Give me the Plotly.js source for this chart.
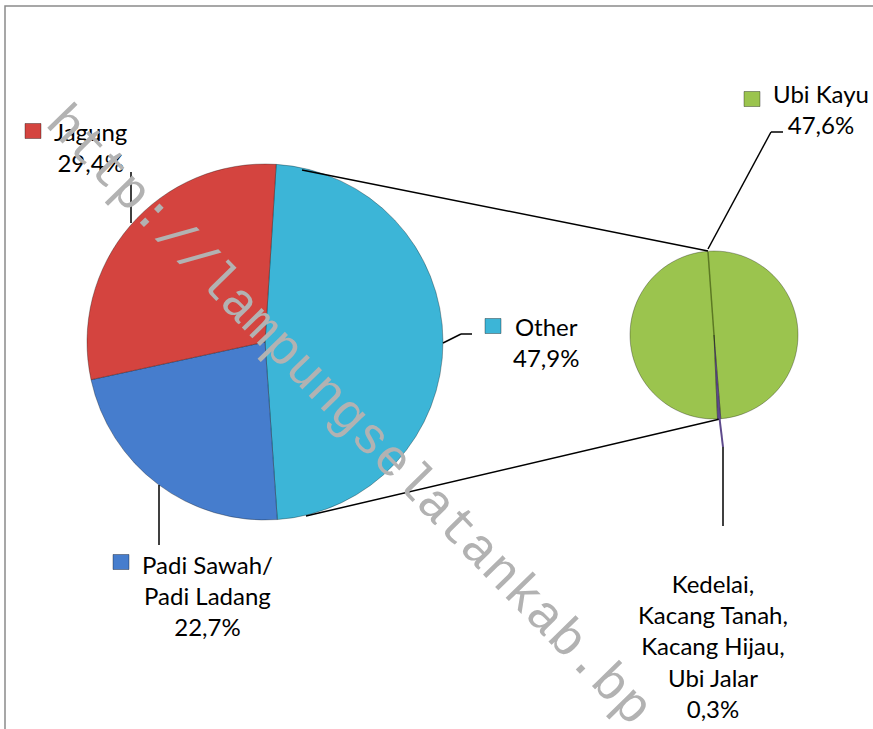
<!DOCTYPE html>
<html>
<head>
<meta charset="utf-8">
<script src="https://cdn.plot.ly/plotly-3.0.1.min.js"></script>
<style>html,body{margin:0;padding:0;background:#fff;}#chart{width:873px;height:729px;}</style>
</head>
<body>
<div id="chart"></div>
<script>
// ---- data ----
const mainLabels = ['Other', 'Padi Sawah/<br>Padi Ladang', 'Jagung'];
const mainValues = [47.9, 22.7, 29.4];
const mainColors = ['#3cb5d7', '#467dcd', '#d4443f'];

const subLabels = ['Ubi Kayu', 'Kedelai,<br>Kacang Tanah,<br>Kacang Hijau,<br>Ubi Jalar'];
const subValues = [47.6, 0.3];
const subColors = ['#9bc44e', '#5e4a8c'];

const watermark = 'http://lampungselatankab.bp';

// ---- helpers ----
const W = 873, H = 729;
const px = x => x / W;
const py = y => 1 - y / H;
const fmt = v => v.toFixed(1).replace('.', ',') + '%';

const traces = [
  {
    type: 'pie', labels: mainLabels, values: mainValues, sort: false,
    direction: 'clockwise', rotation: 3.6,
    marker: {colors: mainColors, line: {color: 'rgba(0,0,0,0.3)', width: 1}},
    textinfo: 'none', hoverinfo: 'none', showlegend: false,
    domain: {x: [px(87), px(443)], y: [py(520), py(164)]}
  },
  {
    type: 'pie', labels: subLabels, values: subValues, sort: false,
    direction: 'clockwise', rotation: 177.6,
    marker: {colors: subColors, line: {color: 'rgba(0,0,0,0.3)', width: 1}},
    textinfo: 'none', hoverinfo: 'none', showlegend: false,
    domain: {x: [px(630), px(798)], y: [py(419), py(251)]}
  }
];

const font = {family: 'Lato, "Open Sans", sans-serif', size: 24, color: '#000'};

function lbl(text, cx, cy) {
  return {xref: 'paper', yref: 'paper', x: px(cx), y: py(cy), xanchor: 'center', yanchor: 'middle',
          text: text, showarrow: false, align: 'center', font: font};
}

const annotations = [
  lbl(mainLabels[2] + '<br>' + fmt(mainValues[2]), 90, 147),
  lbl(mainLabels[0] + '<br>' + fmt(mainValues[0]), 546, 342),
  lbl(mainLabels[1] + '<br>' + fmt(mainValues[1]), 207, 595),
  lbl(subLabels[0] + '<br>' + fmt(subValues[0]), 821, 109),
  lbl(subLabels[1] + '<br>' + fmt(subValues[1]), 713, 646),
  {xref: 'paper', yref: 'paper', x: px(348), y: py(416), xanchor: 'center', yanchor: 'middle',
   text: watermark, showarrow: false, textangle: 45.7,
   font: {family: 'Courier New, Liberation Mono, DejaVu Sans Mono, monospace', size: 52, color: '#b2b2b2'}}
];

function line(x0, y0, x1, y1, color, width) {
  return {type: 'line', xref: 'paper', yref: 'paper', x0: px(x0), y0: py(y0), x1: px(x1), y1: py(y1),
          line: {color: color || '#000', width: width || 1.5}};
}
function key(cx, cy, color) {
  return {type: 'rect', xref: 'paper', yref: 'paper', x0: px(cx - 8), x1: px(cx + 8), y0: py(cy + 7.5), y1: py(cy - 7.5),
          fillcolor: color, line: {color: 'rgba(0,0,0,0.35)', width: 1}};
}

const shapes = [
  // frame
  {type: 'rect', xref: 'paper', yref: 'paper', x0: px(5), y0: py(6), x1: px(900), y1: py(760),
   line: {color: '#8a8a8a', width: 1.5}, fillcolor: 'rgba(0,0,0,0)', layer: 'below'},
  // connectors between pies
  line(302, 170, 708, 251),
  line(306, 516, 720, 419),
  // small pie ridge
  line(708, 252, 714, 335, 'rgba(40,60,0,0.55)', 1.5),
  // leader lines
  line(131, 172, 131, 223),
  line(159, 485, 159, 545),
  line(443, 343, 461, 334), line(461, 334, 472, 334),
  line(708, 249, 771, 132), line(771, 132, 783, 132),
  line(719, 414, 723, 447, '#5e4a8c', 2),
  line(723, 447, 723, 526),
  // legend keys
  key(33, 131, mainColors[2]),
  key(493, 326, mainColors[0]),
  key(121, 562, mainColors[1]),
  key(752, 99, subColors[0])
];

const layout = {
  width: W, height: H, margin: {l: 0, r: 0, t: 0, b: 0},
  paper_bgcolor: '#fff', plot_bgcolor: '#fff',
  showlegend: false, annotations: annotations, shapes: shapes
};

Plotly.newPlot('chart', traces, layout, {staticPlot: true});
</script>
</body>
</html>
